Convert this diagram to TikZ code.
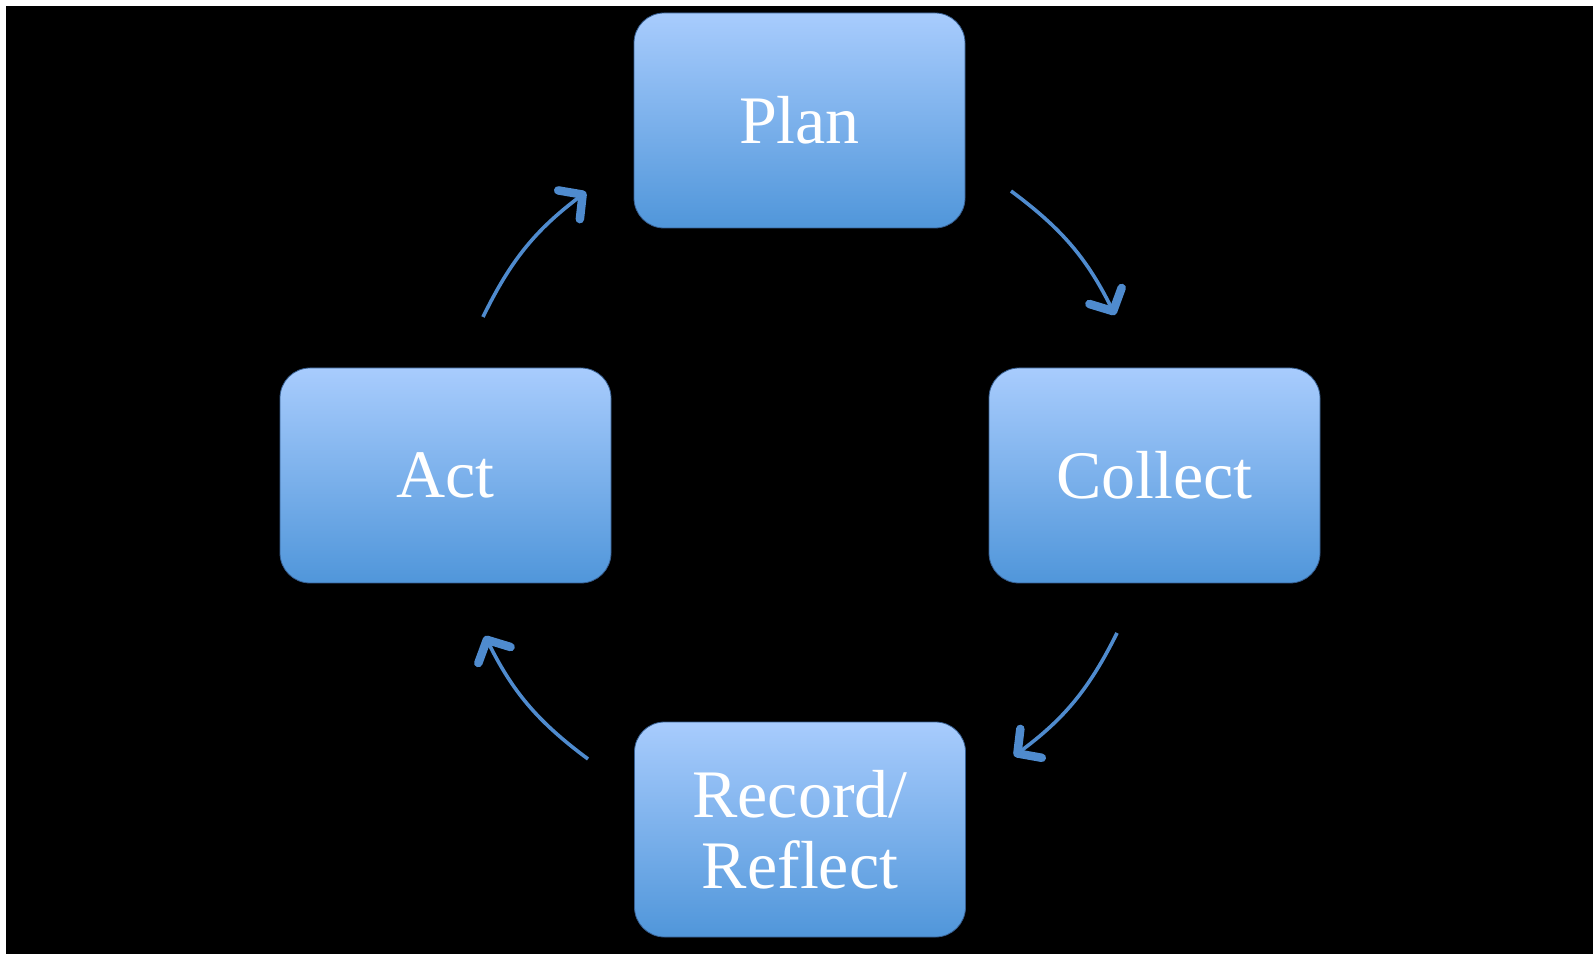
\documentclass[tikz,border=0pt]{standalone}
\usepackage{fontspec}
\setmainfont{Liberation Serif}
\usetikzlibrary{arrows.meta,shadings}
\definecolor{boxtop}{RGB}{168,204,253}
\definecolor{boxbot}{RGB}{80,150,218}
\definecolor{boxline}{RGB}{55,95,145}
\definecolor{arrcol}{RGB}{79,139,206}
\tikzset{
  stepbox/.style={rectangle, rounded corners=30pt, minimum width=331pt, minimum height=215pt,
    inner sep=0pt, top color=boxtop, bottom color=boxbot, draw=boxline, line width=0.8pt,
    text=white, font=\fontsize{68}{71}\selectfont, align=center},
  cyc/.style={draw=arrcol, line width=3.6pt, bend left=13.5,
    -{Straight Barb[length=17pt,width=36pt,line width=8.5pt,line cap=round,line join=round]}}
}
\begin{document}
\begin{tikzpicture}[x=1pt,y=1pt]
\fill[white] (0,0) rectangle (1593,954);
\fill[black] (6,0) rectangle (1593,948);
\useasboundingbox (0,0) rectangle (1593,954);
\node[stepbox] (plan) at (799.5,833.5) {Plan};
\node[stepbox] (act) at (445.5,478.5) {Act};
\node[stepbox] (collect) at (1154.5,478.5) {Collect};
\node[stepbox] (record) at (800,124.5) {Record/\\Reflect};
\coordinate (s1) at (483,637);  \coordinate (e1) at (586,762);
\coordinate (s2) at (1011,763); \coordinate (e2) at (1115,639);
\coordinate (s3) at (1117,321); \coordinate (e3) at (1014,198);
\coordinate (s4) at (588,195);  \coordinate (e4) at (485,318);
\draw[cyc] (s1) to (e1);
\draw[cyc] (s2) to (e2);
\draw[cyc] (s3) to (e3);
\draw[cyc] (s4) to (e4);
\end{tikzpicture}
\end{document}
